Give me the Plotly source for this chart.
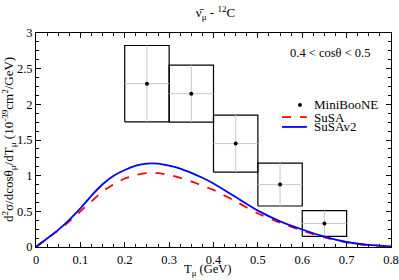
import plotly.graph_objects as go

# MiniBooNE data
data_x = [0.25, 0.35, 0.45, 0.55, 0.65]
data_dx = [0.05, 0.05, 0.05, 0.05, 0.05]
data_y = [2.29, 2.15, 1.45, 0.875, 0.33]
data_err = [0.535, 0.40, 0.40, 0.30, 0.18]

# Theory curves
tmu = [0, 0.025, 0.05, 0.075, 0.1, 0.125, 0.15, 0.175, 0.2, 0.225, 0.25, 0.275, 0.3,
       0.325, 0.35, 0.375, 0.4, 0.45, 0.5, 0.55, 0.6, 0.65, 0.7, 0.75, 0.8]
susav2 = [0, 0.12, 0.24, 0.38, 0.54, 0.72, 0.88, 1.0, 1.08, 1.14, 1.17, 1.17, 1.14,
          1.10, 1.04, 0.97, 0.89, 0.70, 0.51, 0.36, 0.245, 0.145, 0.07, 0.03, 0.01]
susa = [0, 0.12, 0.23, 0.36, 0.50, 0.64, 0.78, 0.88, 0.96, 1.01, 1.035, 1.035, 1.01,
        0.97, 0.92, 0.86, 0.80, 0.64, 0.47, 0.34, 0.23, 0.135, 0.065, 0.025, 0.01]

legend_names = ["MiniBooNE", "SuSA", "SuSAv2"]

FONT = "Liberation Serif"

fig = go.Figure()

# error boxes
bx, by = [], []
for x, dx, y, e in zip(data_x, data_dx, data_y, data_err):
    bx += [x - dx, x + dx, x + dx, x - dx, x - dx, None]
    by += [y - e, y - e, y + e, y + e, y - e, None]
fig.add_trace(go.Scatter(x=bx, y=by, mode="lines", line=dict(color="black", width=1.2),
                         showlegend=False, hoverinfo="skip"))

fig.add_trace(go.Scatter(
    x=data_x, y=data_y, mode="markers", name=legend_names[0], showlegend=False,
    marker=dict(color="black", size=4),
    error_x=dict(type="data", array=data_dx, color="#c8c8c8", thickness=1, width=0),
    error_y=dict(type="data", array=data_err, color="#c8c8c8", thickness=1, width=0),
))
fig.add_trace(go.Scatter(x=tmu, y=susa, mode="lines", name=legend_names[1], line_shape="spline",
                         showlegend=False,
                         line=dict(color="red", width=1.8, dash="dash", smoothing=0.6)))
fig.add_trace(go.Scatter(x=tmu, y=susav2, mode="lines", name=legend_names[2], line_shape="spline",
                         showlegend=False,
                         line=dict(color="blue", width=1.8, smoothing=0.6)))

axis_common = dict(showgrid=False, zeroline=False, showline=True, linecolor="black",
                   linewidth=1, mirror="allticks", ticks="inside", ticklen=5,
                   tickcolor="black", tickangle=0, automargin=False,
                   tickfont=dict(family=FONT, size=12.5, color="black"))

fig.update_xaxes(range=[0, 0.8], tickvals=[0, 0.1, 0.2, 0.3, 0.4, 0.5, 0.6, 0.7, 0.8],
                 ticktext=["0", "0.1", "0.2", "0.3", "0.4", "0.5", "0.6", "0.7", "0.8"],
                 minor=dict(dtick=0.025, ticks="inside", ticklen=3, tickcolor="black"),
                 ticklabelstandoff=1,
                 **axis_common)
fig.update_yaxes(range=[0, 3], tickvals=[0, 0.5, 1, 1.5, 2, 2.5, 3],
                 ticktext=["0", "0.5", "1", "1.5", "2", "2.5", "3"],
                 minor=dict(dtick=0.125, ticks="inside", ticklen=3, tickcolor="black"),
                 ticklabelstandoff=0,
                 **axis_common)

tfont = dict(family=FONT, size=12.5, color="black")
# axis titles
fig.add_annotation(text="T<sub>μ</sub> (GeV)", xref="paper", yref="paper", x=0.482, y=-0.108,
                   xanchor="center", yanchor="middle", showarrow=False, font=tfont)
fig.add_annotation(text="d<sup>2</sup>σ/dcosθ<sub>μ</sub>/dT<sub>μ</sub> (10<sup>-39</sup>cm<sup>2</sup>/GeV)",
                   xref="paper", yref="paper", x=-0.076, y=0.5, textangle=-90,
                   xanchor="center", yanchor="middle", showarrow=False,
                   font=dict(family=FONT, size=13, color="black"))

fig.add_annotation(text="0.4 < cosθ < 0.5", xref="paper", yref="paper", x=0.949, y=0.907,
                   xanchor="right", yanchor="middle", showarrow=False, font=tfont)

# manual legend
lfont = dict(family=FONT, size=13, color="black")
leg_y = [0.664, 0.607, 0.561]
for name, yy in zip(legend_names, leg_y):
    fig.add_annotation(text=name, xref="paper", yref="paper", x=0.780, y=yy,
                       xanchor="left", yanchor="middle", showarrow=False, font=lfont,
                       borderpad=0)
fig.add_shape(type="circle", xref="paper", yref="paper", x0=0.738, x1=0.749,
              y0=leg_y[0] - 0.009, y1=leg_y[0] + 0.009, fillcolor="black", line_width=0)
fig.add_shape(type="line", xref="paper", yref="paper", x0=0.693, x1=0.763,
              y0=leg_y[1], y1=leg_y[1], line=dict(color="red", width=1.8, dash="dash"))
fig.add_shape(type="line", xref="paper", yref="paper", x0=0.693, x1=0.763,
              y0=leg_y[2], y1=leg_y[2], line=dict(color="blue", width=1.8))

fig.update_layout(
    width=399, height=280,
    margin=dict(l=36, r=8, t=33, b=33),
    paper_bgcolor="white", plot_bgcolor="white",
    title=dict(text="ν̄<sub>μ</sub> - <sup>12</sup>C", x=0.54, xanchor="center", y=0.955,
               yanchor="middle", font=dict(family=FONT, size=13, color="black")),
    showlegend=False,
)

fig.write_html("out.html", config={"displayModeBar": False},
               post_script="document.body.style.margin='0';document.body.style.padding='0';")
